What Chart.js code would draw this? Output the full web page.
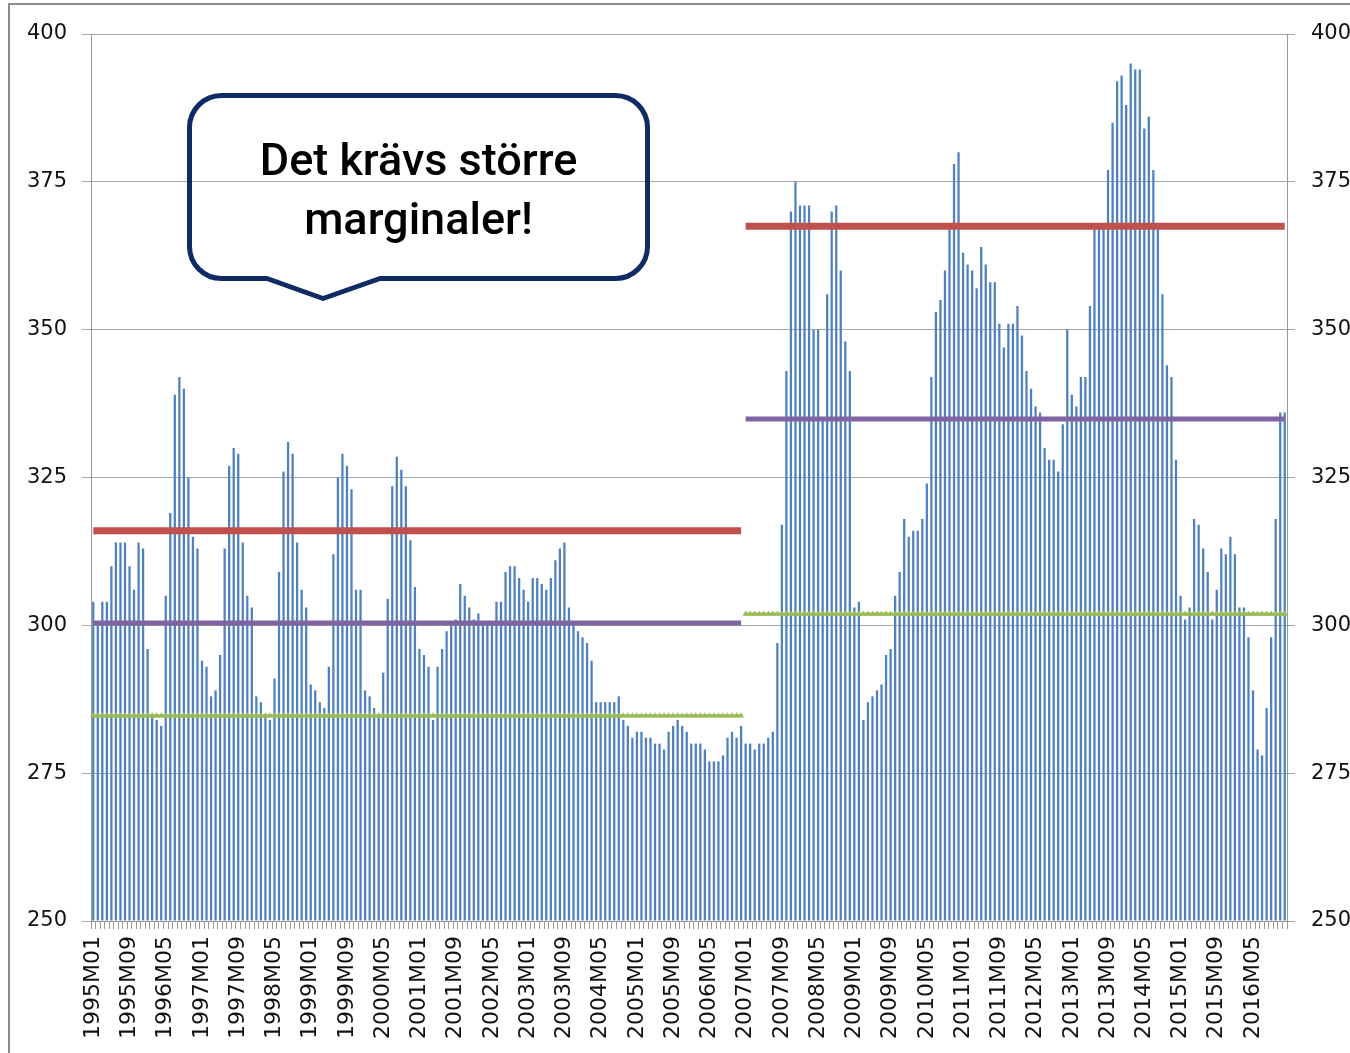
<!DOCTYPE html>
<html lang="sv">
<head>
  <meta charset="UTF-8">
  <title>Det krävs större marginaler</title>
  <style>
    body {
      margin: 0;
      background: #fff;
      overflow: hidden;
      font-family: "DejaVu Sans", sans-serif;
    }

    .frame {
      position: absolute;
      left: 8px;
      top: 3px;
      width: 1400px;
      height: 1100px;
      border-left: 2px solid #8c8c8c;
      border-top: 2px solid #8c8c8c;
    }

    #chart {
      position: absolute;
      left: 0;
      top: 0;
    }

    .callout {
      position: absolute;
      left: 187px;
      top: 93px;
      width: 463px;
      height: 210px;
    }

    .callout svg {
      position: absolute;
      left: 0;
      top: 0;
    }

    .callout-text {
      position: absolute;
      left: 0;
      top: 38px;
      width: 463px;
      text-align: center;
      font-family: Roboto, "Liberation Sans", Arial, sans-serif;
      font-weight: 500;
      font-size: 45px;
      line-height: 58.7px;
      color: #000;
    }
  </style>
</head>
<body>

<div class="frame"></div>
<canvas id="chart" width="1380" height="1053"></canvas>

<div class="callout">
  <svg width="463" height="210">
    <path d="M34.5 2.5 H428.5 A32 32 0 0 1 460.5 34.5 V153.5 A32 32 0 0 1 428.5 185.5 H193 L136 205.5 L80 185.5 H34.5 A32 32 0 0 1 2.5 153.5 V34.5 A32 32 0 0 1 34.5 2.5 Z"
          fill="none" stroke="#0e2b63" stroke-width="5" stroke-linejoin="round"/>
  </svg>
  <div class="callout-text">Det krävs större<br>marginaler!</div>
</div>

<script src="https://cdn.jsdelivr.net/npm/chart.js"></script>
<script>
// månader 1995M01 - 2016M12
const startYear = 1995;
const endYear = 2016;
const labels = [];
for (let y = startYear; y <= endYear; y++) {
  for (let m = 1; m <= 12; m++) {
    labels.push(y + 'M' + (m < 10 ? '0' + m : m));
  }
}

// månadsvärden (avlästa)
const values = [
  304, 300, 304, 304, 310, 314, 314, 314, 310, 306, 314, 313,   // 1995
  296, 285, 284, 283, 305, 319, 339, 342, 340, 325, 315, 313,   // 1996
  294, 293, 288, 289, 295, 313, 327, 330, 329, 314, 305, 303,   // 1997
  288, 287, 285, 284, 291, 309, 326, 331, 329, 314, 306, 303,   // 1998
  290, 289, 287, 286, 293, 312, 325, 329, 327, 323, 306, 306,   // 1999
  289, 288, 286, 285, 292, 304.5, 323.5, 328.5, 326.3, 323.5, 314.4, 306.5, // 2000
  296, 295, 293, 284, 293, 296, 299, 300.5, 301, 307, 305, 303, // 2001
  301, 302, 300.5, 300.5, 300.5, 304, 304, 309, 310, 310, 308, 306, // 2002
  304, 308, 308, 307, 306, 308, 311, 313, 314, 303, 300.5, 299, // 2003
  298, 297, 294, 287, 287, 287, 287, 287, 288, 284, 283, 281,   // 2004
  282, 282, 281, 281, 280, 280, 279, 282, 283, 284, 283, 282,   // 2005
  280, 280, 280, 279, 277, 277, 277, 278, 281, 282, 281, 283,   // 2006
  280, 280, 279, 280, 280, 281, 282, 297, 317, 343, 370, 375,   // 2007
  371, 371, 371, 350, 350, 335, 356, 370, 371, 360, 348, 343,   // 2008
  303, 304, 284, 287, 288, 289, 290, 295, 296, 305, 309, 318,   // 2009
  315, 316, 316, 318, 324, 342, 353, 355, 360, 368, 378, 380,   // 2010
  363, 361, 360, 357, 364, 361, 358, 358, 351, 347, 351, 351,   // 2011
  354, 349, 343, 340, 337, 336, 330, 328, 328, 326, 334, 350,   // 2012
  339, 337, 342, 342, 354, 367.5, 367.5, 367.5, 377, 385, 392, 393, // 2013
  388, 395, 394, 394, 384, 386, 377, 367, 356, 344, 342, 328,   // 2014
  305, 301, 303, 318, 317, 313, 309, 301, 306, 313, 312, 315,   // 2015
  312, 303, 303, 298, 289, 279, 278, 286, 298, 318, 336, 336    // 2016
];

// perioder och nivålinjer
const periodStart = ['1995M01', '2007M01'];
const redLevels = [316, 367.5];
const purpleLevels = [300.4, 334.9];
const greenLevels = [284.7, 301.9];

const yTicks = [250, 275, 300, 325, 350, 375, 400];

function levelSeries(levels, p) {
  const from = labels.indexOf(periodStart[p]);
  const to = p + 1 < periodStart.length ? labels.indexOf(periodStart[p + 1]) : labels.length;
  return labels.map((l, i) => (i >= from && i < to) ? levels[p] : null);
}

const lineSets = [];
[0, 1].forEach(p => {
  lineSets.push({
    type: 'line', data: levelSeries(redLevels, p), borderColor: '#c0504d',
    borderWidth: 7, pointRadius: 0, borderCapStyle: 'butt', order: 1, spanGaps: false
  });
  lineSets.push({
    type: 'line', data: levelSeries(purpleLevels, p), borderColor: '#8064a2',
    borderWidth: 5, pointRadius: 0, borderCapStyle: 'butt', order: 1, spanGaps: false
  });
  lineSets.push({
    type: 'line', data: levelSeries(greenLevels, p), borderColor: '#9bbb59',
    borderWidth: 3, pointStyle: 'triangle', pointRadius: 3.5, pointBorderWidth: 0,
    pointBackgroundColor: '#9bbb59', order: 1, spanGaps: false
  });
});

const tickFont = { family: 'DejaVu Sans', size: 21 };

new Chart(document.getElementById('chart'), {
  type: 'bar',
  data: {
    labels: labels,
    datasets: [{
      data: values,
      backgroundColor: '#4f81bd',
      barPercentage: 0.5,
      categoryPercentage: 1.0,
      base: 250,
      order: 10
    }].concat(lineSets)
  },
  options: {
    responsive: false,
    animation: false,
    events: [],
    layout: { padding: { top: 34, left: 0, right: 0, bottom: 0 } },
    plugins: {
      legend: { display: false },
      tooltip: { enabled: false }
    },
    scales: {
      x: {
        offset: true,
        grid: {
          offset: true, drawOnChartArea: false, tickLength: 8,
          color: '#999', lineWidth: 1
        },
        border: { color: '#999' },
        ticks: {
          autoSkip: false, maxRotation: 90, minRotation: 90,
          padding: 7, color: '#111', font: { family: 'DejaVu Sans', size: 22 },
          callback: (v, i) => i % 8 === 0 ? labels[i] : ''
        },
        afterFit: s => { s.height = 132; }
      },
      y: {
        min: 250, max: 400,
        afterBuildTicks: s => { s.ticks = yTicks.map(v => ({ value: v })); },
        grid: { color: '#a6a6a6', lineWidth: 1, tickLength: 9 },
        border: { color: '#999' },
        ticks: { padding: 15, color: '#111', font: tickFont },
        afterFit: s => { s.width = 91; }
      },
      y2: {
        position: 'right',
        min: 250, max: 400,
        afterBuildTicks: s => { s.ticks = yTicks.map(v => ({ value: v })); },
        grid: { drawOnChartArea: false, color: '#a6a6a6', tickLength: 8 },
        border: { color: '#999' },
        ticks: { padding: 16, color: '#111', font: tickFont },
        afterFit: s => { s.width = 93; }
      }
    }
  }
});
</script>
</body>
</html>
